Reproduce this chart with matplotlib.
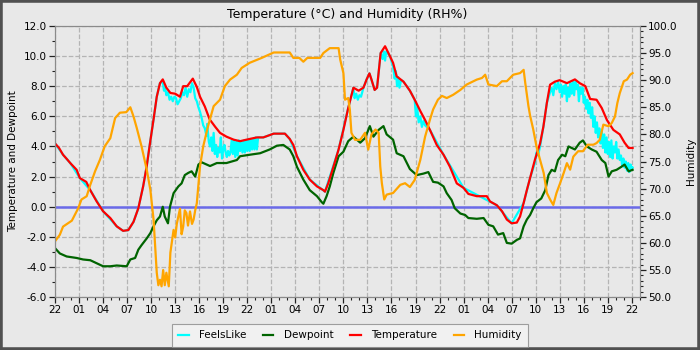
import matplotlib
matplotlib.use("Agg")
import matplotlib.pyplot as plt
from matplotlib.patches import Rectangle
from matplotlib.ticker import MultipleLocator, FormatStrFormatter

# hours since 22:00 on the first day, 3-day window
tick_hours = list(range(0, 73, 3))
tick_labels = ['22', '01', '04', '07', '10', '13', '16', '19'] * 3 + ['22']

temp_h = [0.0, 0.5, 1.0, 1.5, 1.9, 2.7, 3.1, 3.9, 4.4, 5.2, 6.0, 6.9, 7.7, 8.5, 9.15, 9.8,
          10.4, 11.0, 11.45, 11.85, 12.3, 12.7, 13.1, 13.45, 13.9, 14.4, 15.0, 15.6, 16.0,
          16.5, 17.2, 17.7, 18.1, 18.7, 19.3, 20.0, 20.6, 21.4, 22.3, 23.1, 23.9, 25.2,
          26.0, 27.3, 28.7, 29.3, 29.75, 30.2, 31.0, 31.8, 32.7, 33.5, 33.7, 34.1, 34.75,
          35.4, 36.0, 36.6, 37.25, 37.9, 38.5, 38.9, 39.25, 39.5, 39.9, 40.2, 40.65, 41.2,
          41.8, 42.2, 42.65, 43.5, 44.3, 44.9, 45.6, 46.2, 46.8, 47.65, 48.5, 49.3, 50.15,
          51.0, 51.6, 52.65, 53.9, 54.3, 55.15, 55.8, 56.4, 57.0, 57.65, 58.05, 58.5, 58.9,
          59.3, 59.9, 60.55, 60.96, 61.4, 61.8, 62.4, 63.0, 63.9, 64.9, 65.5, 66.2, 66.8,
          67.6, 68.25, 68.9, 69.7, 70.5, 71.1, 71.6, 72.1]
temp_c = [4.2, 3.9, 3.45, 3.15, 2.9, 2.45, 1.9, 1.65, 1.1, 0.35, -0.3, -0.75, -1.3, -1.6, -1.55,
          -1.0, -0.1, 1.35, 2.7, 4.2, 5.8, 7.3, 8.2, 8.45, 7.9, 7.55, 7.5, 7.3, 8.0, 8.0, 8.5,
          7.95, 7.3, 6.65, 5.8, 5.3, 4.9, 4.65, 4.45, 4.35, 4.45, 4.6, 4.6, 4.85, 4.85, 4.5,
          4.1, 3.35, 2.45, 1.8, 1.35, 1.1, 1.0, 1.55, 2.65, 3.8, 5.1, 6.55, 7.9, 7.7, 7.9,
          8.45, 8.85, 8.45, 7.75, 7.9, 10.2, 10.65, 10.0, 9.55, 8.65, 8.3, 7.7, 7.1, 6.35,
          5.75, 5.1, 4.1, 3.45, 2.65, 1.55, 1.25, 0.85, 0.7, 0.7, 0.35, 0.1, -0.3, -0.85,
          -1.1, -1.05, -0.65, 0.25, 1.1, 1.9, 3.1, 4.2, 5.3, 6.9, 8.1, 8.3, 8.4, 8.2, 8.45,
          8.2, 8.0, 7.15, 7.1, 6.55, 5.75, 5.1, 4.8, 4.25, 3.9, 3.9]

feels_h = [0.0, 1.0, 1.9, 3.1, 4.4, 6.0, 7.7, 8.5, 9.15, 9.8, 10.4, 11.0, 11.45, 11.85, 12.3,
           12.7, 13.1, 13.45, 13.6, 13.75, 13.9, 14.1, 14.3, 14.5, 14.7, 14.9, 15.1, 15.3,
           15.5, 15.7, 15.9, 16.1, 16.3, 16.5, 16.7, 16.9, 17.1, 17.3, 17.5, 17.7, 17.9,
           18.1, 18.3, 18.5, 18.7, 18.9, 19.0, 19.2, 19.35, 19.5, 19.65, 19.8, 19.95, 20.1,
           20.25, 20.4, 20.55, 20.7, 20.85, 21.0, 21.15, 21.3, 21.45, 21.6, 21.75, 21.9,
           22.05, 22.2, 22.35, 22.5, 22.65, 22.8, 22.95, 23.1, 23.25, 23.4, 23.55, 23.7,
           23.85, 24.0, 24.15, 24.3, 24.45, 24.6, 24.75, 24.9, 25.05, 25.2, 25.35, 25.5,
           26.0, 27.3, 28.7, 29.3, 30.2, 31.8, 33.7, 35.4, 36.6, 37.25, 37.4, 37.6, 37.8,
           38.0, 38.2, 38.5, 38.9, 39.25, 39.9, 40.2, 40.65, 40.9, 41.05, 41.2, 41.35, 41.8,
           42.2, 42.4, 42.55, 42.7, 42.85, 43.0, 43.2, 43.5, 44.3, 44.9, 45.05, 45.2, 45.4,
           45.6, 45.8, 46.0, 46.2, 46.4, 46.8, 48.5, 51.0, 55.15, 57.0, 58.5, 59.3, 59.9,
           60.1, 60.3, 60.55, 60.96, 61.4, 61.8, 62.0, 62.2, 62.4, 62.6, 62.8, 63.0, 63.15,
           63.3, 63.45, 63.6, 63.75, 63.9, 64.05, 64.2, 64.35, 64.5, 64.65, 64.8, 64.95,
           65.1, 65.25, 65.4, 65.55, 65.7, 65.85, 66.0, 66.15, 66.3, 66.45, 66.6, 66.75,
           66.9, 67.05, 67.2, 67.35, 67.5, 67.65, 67.8, 67.95, 68.1, 68.25, 68.4, 68.55,
           68.7, 68.85, 69.0, 69.15, 69.3, 69.45, 69.6, 69.75, 69.9, 70.05, 70.2, 70.35,
           70.5, 70.65, 70.8, 70.95, 71.1, 71.25, 71.4, 71.55, 71.7, 71.85, 72.0, 72.1]
feels_c = [4.2, 3.45, 2.9, 1.9, 1.1, -0.3, -1.3, -1.6, -1.55, -1.0, -0.1, 1.35, 2.7, 4.2, 5.8,
           7.3, 8.2, 8.3, 7.7, 7.9, 7.4, 7.6, 7.1, 7.3, 7.0, 7.3, 7.2, 6.8, 7.0, 7.2, 7.6, 7.4,
           7.9, 7.3, 7.8, 7.6, 8.2, 7.9, 7.2, 7.0, 6.6, 6.3, 5.9, 5.4, 5.2, 4.7, 5.5, 4.3, 4.0,
           4.6, 3.7, 4.9, 3.5, 4.1, 3.3, 3.9, 3.6, 4.6, 3.2, 3.8, 4.1, 3.6, 3.3, 3.7, 3.4, 3.6,
           4.4, 3.5, 4.4, 3.3, 4.3, 3.4, 4.4, 3.7, 4.3, 3.6, 4.4, 3.6, 4.4, 3.7, 4.5, 3.7, 4.5,
           3.8, 4.5, 3.8, 4.6, 3.8, 4.6, 4.6, 4.6, 4.85, 4.85, 4.5, 3.35, 1.8, 1.0, 3.8, 6.55,
           7.9, 7.2, 7.5, 7.1, 7.4, 7.3, 7.9, 8.45, 8.85, 7.75, 7.9, 10.2, 9.8, 10.3, 9.7,
           10.3, 10.0, 9.3, 8.5, 9.0, 8.0, 8.6, 7.9, 8.4, 8.3, 7.7, 7.1, 6.0, 6.6, 5.6, 6.0,
           5.3, 5.7, 5.4, 5.3, 5.1, 3.45, 1.25, 0.1, -1.1, 0.25, 1.9, 2.9, 3.6, 3.4, 4.0, 5.3,
           6.9, 7.6, 7.9, 7.4, 8.2, 7.8, 8.3, 7.6, 8.1, 7.3, 8.0, 7.5, 8.1, 7.0, 7.9, 7.3, 8.2,
           7.5, 8.3, 7.4, 8.3, 7.8, 8.1, 7.0, 7.9, 7.5, 7.9, 6.9, 7.3, 6.5, 7.1, 6.2, 6.9, 5.9,
           6.6, 5.3, 6.0, 4.9, 5.6, 4.6, 5.2, 4.2, 5.0, 3.9, 4.8, 3.6, 4.6, 3.5, 4.3, 3.3, 4.4,
           3.2, 4.0, 3.6, 4.3, 3.2, 3.8, 3.1, 3.4, 2.7, 3.2, 2.6, 3.0, 2.4, 2.9, 2.3, 2.8, 2.5,
           2.6]

dew_h = [0.0, 0.6, 1.45, 2.7, 3.5, 4.4, 5.2, 6.0, 6.9, 7.7, 8.95, 9.4, 10.0, 10.4, 10.8, 11.45,
         11.9, 12.3, 12.7, 13.1, 13.45, 13.7, 14.1, 14.35, 14.8, 15.4, 15.8, 16.2, 16.65,
         17.05, 17.5, 17.9, 18.3, 19.35, 20.2, 21.4, 22.7, 23.1, 24.3, 25.6, 26.8, 27.7, 28.5,
         29.3, 29.75, 30.2, 31.0, 31.8, 32.7, 33.3, 33.5, 33.9, 34.3, 34.75, 35.4, 36.0, 36.6,
         37.25, 38.1, 38.7, 39.3, 39.75, 40.4, 41.0, 41.4, 42.2, 42.65, 43.5, 44.3, 45.15,
         46.0, 46.6, 47.2, 47.8, 48.5, 48.9, 49.5, 49.9, 50.6, 51.2, 51.6, 52.65, 53.5, 54.1,
         54.7, 55.3, 55.95, 56.4, 57.0, 57.65, 58.05, 58.5, 58.9, 59.3, 59.7, 60.1, 60.7,
         61.2, 61.6, 62.0, 62.4, 62.8, 63.3, 63.7, 64.1, 64.5, 64.9, 65.5, 65.9, 66.4, 67.0,
         67.6, 68.25, 68.7, 69.1, 69.5, 70.1, 70.7, 71.1, 71.6, 72.1]
dew_c = [-2.75, -3.1, -3.3, -3.4, -3.5, -3.55, -3.75, -3.95, -3.95, -3.9, -3.95, -3.5, -3.4,
         -2.85, -2.55, -2.1, -1.75, -1.3, -0.9, -0.65, 0.0, -0.65, -1.1, 0.0, 0.9, 1.35, 1.55,
         2.1, 2.25, 2.35, 2.0, 2.8, 2.95, 2.7, 2.9, 2.9, 3.1, 3.35, 3.45, 3.55, 3.8, 4.05, 4.1,
         3.8, 3.35, 2.65, 1.8, 1.1, 0.7, 0.3, 0.2, 0.7, 1.35, 2.25, 3.35, 3.65, 4.35, 4.65,
         4.25, 4.55, 5.35, 4.65, 5.1, 5.35, 4.8, 4.45, 3.55, 3.35, 2.5, 2.1, 2.2, 2.3, 1.65,
         1.6, 1.35, 0.9, 0.45, -0.1, -0.45, -0.55, -0.75, -0.8, -0.75, -1.2, -1.3, -1.85,
         -1.75, -2.4, -2.45, -2.2, -2.1, -1.3, -0.85, -0.55, -0.1, 0.3, 0.55, 1.1, 2.1, 2.45,
         2.35, 3.1, 3.45, 3.35, 4.0, 3.9, 3.8, 4.25, 4.4, 4.0, 3.8, 3.65, 3.1, 2.9, 2.0, 2.35,
         2.45, 2.65, 2.8, 2.35, 2.45]

hum_h = [0.0, 0.6, 1.0, 2.1, 2.9, 3.3, 3.95, 4.4, 5.0, 5.6, 6.2, 6.9, 7.5, 8.1, 8.9, 9.4, 9.8,
         10.2, 10.8, 11.45, 11.9, 12.3, 12.5, 12.7, 12.9, 13.1, 13.3, 13.5, 13.7, 13.9, 14.2,
         14.4, 14.8, 15.0, 15.2, 15.6, 15.8, 16.0, 16.2, 16.4, 16.6, 16.85, 17.1, 17.3, 17.5,
         17.7, 18.1, 18.5, 19.1, 19.8, 20.6, 21.2, 21.85, 22.7, 23.3, 24.3, 25.8, 27.3, 29.3,
         29.75, 30.5, 31.0, 31.5, 33.1, 33.5, 34.3, 35.4, 35.6, 36.0, 36.2, 36.6, 36.8, 37.0,
         37.45, 38.1, 38.7, 39.1, 39.5, 40.0, 40.4, 40.6, 40.8, 41.1, 41.4, 42.2, 43.1, 43.7,
         44.3, 44.9, 45.6, 46.2, 46.8, 47.2, 47.8, 48.3, 48.9, 49.7, 50.6, 51.4, 52.65, 53.3,
         53.7, 54.1, 55.15, 55.8, 56.4, 57.2, 58.05, 58.5, 58.7, 59.1, 59.3, 59.7, 60.1, 60.55,
         61.0, 61.4, 61.8, 62.2, 62.6, 63.05, 63.5, 63.9, 64.3, 64.7, 65.3, 65.9, 66.5, 67.2,
         67.6, 68.0, 68.45, 69.1, 69.5, 69.9, 70.2, 70.5, 71.0, 71.4, 71.8, 72.1]
hum_rh = [60.3, 61.5, 63.0, 64.1, 66.4, 68.0, 68.6, 70.7, 73.2, 75.3, 77.8, 79.3, 83.0, 84.0,
          84.1, 85.0, 83.3, 81.2, 77.8, 73.5, 69.8, 64.3, 59.3, 54.5, 52.2, 53.2, 52.0, 55.0,
          52.2, 54.5, 52.0, 58.2, 62.4, 61.0, 63.5, 66.3, 61.6, 63.0, 66.0, 65.5, 63.2, 65.8,
          63.5, 64.3, 66.0, 67.3, 74.1, 77.8, 81.5, 85.2, 86.4, 88.9, 90.1, 91.0, 92.25, 93.2,
          94.1, 95.1, 95.1, 94.1, 94.1, 93.4, 94.1, 94.1, 95.0, 95.9, 95.9, 93.8, 91.3, 86.4,
          86.7, 84.6, 80.3, 79.0, 79.0, 80.3, 77.2, 80.0, 80.9, 80.3, 74.1, 71.0, 68.0, 68.9,
          69.2, 70.7, 71.0, 70.3, 71.6, 75.3, 79.6, 82.7, 84.6, 86.4, 87.1, 86.7, 87.3, 88.2,
          89.2, 90.1, 90.4, 91.0, 89.2, 88.9, 89.8, 89.8, 91.0, 91.3, 91.9, 89.5, 85.2, 83.5,
          80.9, 77.8, 75.3, 72.9, 69.2, 68.0, 67.0, 69.2, 71.0, 72.9, 74.7, 73.5, 75.9, 76.9,
          76.9, 78.1, 78.1, 78.4, 79.0, 81.8, 81.5, 82.1, 83.3, 85.8, 87.6, 89.8, 90.1, 91.0,
          91.3]

bg = '#e8e8e8'
plt.rcParams['font.family'] = 'DejaVu Sans'

fig = plt.figure(figsize=(7, 3.5), dpi=100, facecolor=bg)
ax = fig.add_axes([0.0786, 0.151, 0.8354, 0.775], facecolor=bg)
ax2 = ax.twinx()

l1, = ax.plot(feels_h, feels_c, color='#00ffff', lw=1.6, label='FeelsLike')
l2, = ax.plot(dew_h, dew_c, color='#006400', lw=1.6, label='Dewpoint')
l3, = ax.plot(temp_h, temp_c, color='#ff0000', lw=1.6, label='Temperature')
ax.axhline(0, color='#6a6ae8', lw=1.8, zorder=1)
l4, = ax2.plot(hum_h, hum_rh, color='#ffa500', lw=1.6, label='Humidity')

ax.set_xlim(0, 73)
ax.set_ylim(-6, 12)
ax2.set_ylim(50, 100)

ax.set_xticks(tick_hours)
ax.set_xticklabels(tick_labels)
ax.xaxis.set_minor_locator(MultipleLocator(1))
ax.yaxis.set_major_locator(MultipleLocator(2))
ax.yaxis.set_minor_locator(MultipleLocator(1))
ax.yaxis.set_major_formatter(FormatStrFormatter('%.1f'))
ax2.yaxis.set_major_locator(MultipleLocator(5))
ax2.yaxis.set_minor_locator(MultipleLocator(1))
ax2.yaxis.set_major_formatter(FormatStrFormatter('%.1f'))

ax.grid(True, which='major', color='#b4b4b4', linestyle='--', lw=0.9)
ax.set_axisbelow(True)

for a in (ax, ax2):
    a.tick_params(which='major', length=4, width=0.9, labelsize=7.5, color='#222222', pad=2)
    a.tick_params(which='minor', length=2.5, width=0.8, color='#222222')
    for s in a.spines.values():
        s.set_color('#8a8a8a')

ax.set_title('Temperature (°C) and Humidity (RH%)', fontsize=9, pad=6)
ax.set_ylabel('Temperature and Dewpoint', fontsize=7.5, labelpad=4)
ax2.set_ylabel('Humidity', fontsize=7.5, labelpad=6)

leg = fig.legend(handles=[l1, l2, l3, l4], loc='lower center', bbox_to_anchor=(0.5, -0.005),
                 ncol=4, fontsize=7.5, frameon=True, fancybox=False, handlelength=1.0,
                 columnspacing=1.6, handletextpad=1.0, borderpad=0.6)
leg.get_frame().set_facecolor('#f4f4f4')
leg.get_frame().set_edgecolor('#8a8a8a')
leg.get_frame().set_linewidth(0.8)

fig.patches.append(Rectangle((0, 0), 1, 1, transform=fig.transFigure, fill=False,
                             edgecolor='#505050', lw=4))

fig.savefig('out.png', dpi=100, facecolor=bg)
